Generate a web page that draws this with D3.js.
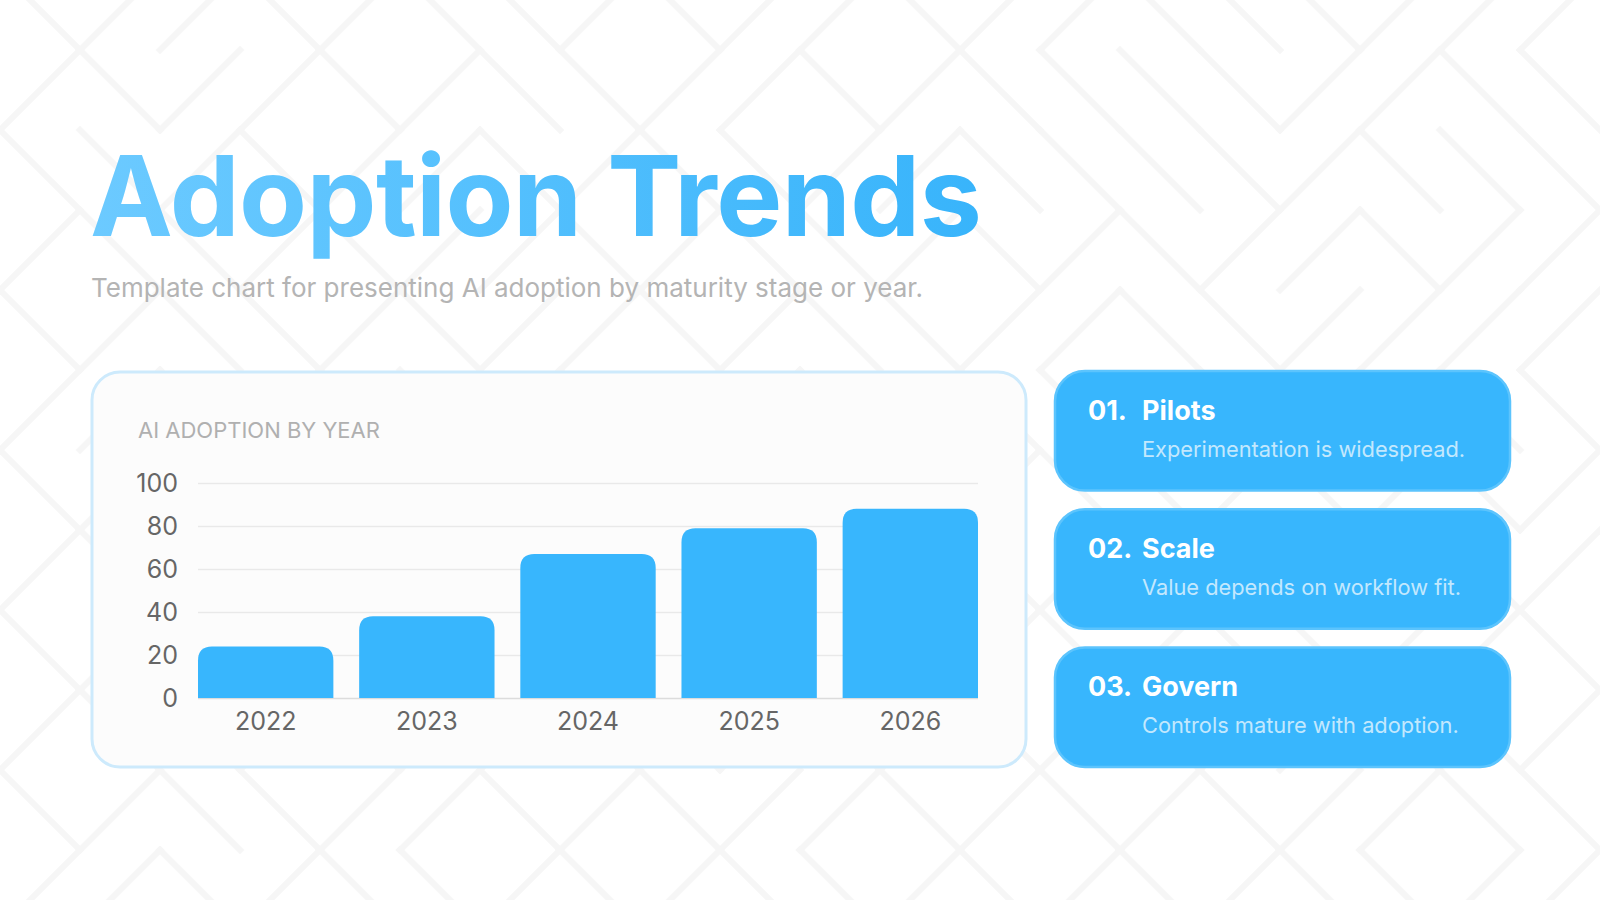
<!DOCTYPE html>
<html>
<head>
<meta charset="utf-8">
<script src="https://cdn.jsdelivr.net/npm/d3@7"></script>
<style>
  html, body { margin: 0; padding: 0; background: #ffffff; }
  svg { display: block; font-family: Inter, "Noto Sans", sans-serif; }
</style>
</head>
<body>
<div id="chart"></div>
<script>
const years = ["2022", "2023", "2024", "2025", "2026"];
const adoption = [24, 38, 67, 79, 88];
const yTicks = [0, 20, 40, 60, 80, 100];

const stageNums = ["01.", "02.", "03."];
const stageNames = ["Pilots", "Scale", "Govern"];
const stageNotes = [
    "Experimentation is widespread.",
    "Value depends on workflow fit.",
    "Controls mature with adoption."
];

// background maze: one diagonal per 80px cell, L = "\" and R = "/"
const mazeRows = [
    "LRRLRLLRLRRLRRLLLRRR",
    "RLRRLRLLRRLRLLLLRRLL",
    "LLRLRRLRLLRRLLLLRLLL",
    "RLLRLRRLRLLRLRLRRLRR",
    "LRLLRLRRLRLLRRLLRRRR",
    "RRLRLLRLRRLRLLRLRRLL",
    "LRLRRLLRLRLLRLLRLRLR",
    "RLRLLRRLRLRRLRLLRLLR",
    "LRRLRLLRRLRLRLRLLRRL",
    "RLLRLRRLLRLRLRLRRLLR",
    "LRLLRRLRLRRLRLRLRRLL",
    "RRLRLLRLRLLRLRLRLLRR"
];

const width = 1600, height = 900;

const svg = d3.select("#chart").append("svg")
    .attr("width", width)
    .attr("height", height);

const defs = svg.append("defs");

const cell = 80, mazeTop = -30;
const cells = [];
mazeRows.forEach((row, r) => {
    row.split("").forEach((k, c) => cells.push({ r: r, c: c, k: k }));
});

svg.append("g")
    .selectAll("line")
    .data(cells)
    .enter().append("line")
    .attr("x1", d => d.c * cell)
    .attr("x2", d => d.c * cell + cell)
    .attr("y1", d => mazeTop + d.r * cell + (d.k === "L" ? 0 : cell))
    .attr("y2", d => mazeTop + d.r * cell + (d.k === "L" ? cell : 0))
    .attr("stroke", "#f6f6f6")
    .attr("stroke-width", 6)
    .attr("stroke-linecap", "square");

// title gradient
const grad = defs.append("linearGradient")
    .attr("id", "titleGrad")
    .attr("x1", "0%").attr("x2", "100%");
grad.append("stop").attr("offset", "0%").attr("stop-color", "#6ccaff");
grad.append("stop").attr("offset", "100%").attr("stop-color", "#38b4fb");

svg.append("text")
    .attr("x", 90)
    .attr("y", 236)
    .attr("font-size", 111)
    .attr("font-weight", 700)
    .attr("letter-spacing", -0.6)
    .attr("fill", "url(#titleGrad)")
    .text("Adoption Trends");

svg.append("text")
    .attr("x", 91)
    .attr("y", 297)
    .attr("font-size", 26)
    .attr("fill", "#b4b4b4")
    .text("Template chart for presenting AI adoption by maturity stage or year.");

// chart panel
svg.append("rect")
    .attr("x", 92).attr("y", 372)
    .attr("width", 934).attr("height", 395)
    .attr("rx", 28)
    .attr("fill", "#fcfcfc")
    .attr("stroke", "#cdeafc")
    .attr("stroke-width", 3);

svg.append("text")
    .attr("x", 138)
    .attr("y", 438)
    .attr("font-size", 22)
    .attr("fill", "#b0b0b0")
    .text("AI ADOPTION BY YEAR");

const x = d3.scaleBand()
    .domain(years)
    .range([198, 978])
    .paddingInner(0.16)
    .paddingOuter(0);

const y = d3.scaleLinear()
    .domain([0, 100])
    .range([698, 483]);

// gridlines
svg.append("g")
    .attr("transform", "translate(198,0)")
    .call(d3.axisLeft(y).tickValues(yTicks).tickSize(-780).tickFormat(""))
    .call(g => g.select(".domain").remove())
    .call(g => g.selectAll(".tick line")
        .attr("stroke", d => d === 0 ? "#dcdcdc" : "#e9e9e9")
        .attr("stroke-width", 1.5));

// y axis labels
svg.append("g")
    .attr("transform", "translate(198,0)")
    .call(d3.axisLeft(y).tickValues(yTicks).tickSize(0).tickPadding(20))
    .call(g => g.select(".domain").remove())
    .call(g => g.selectAll("text")
        .attr("font-family", "Inter, sans-serif")
        .attr("font-size", 25)
        .attr("fill", "#666666"));

// bars with rounded tops
const r = 14;
function barPath(d, i) {
    const x0 = x(years[i]), w = x.bandwidth();
    const yt = y(d), yb = y(0);
    return `M${x0},${yb} L${x0},${yt + r} Q${x0},${yt} ${x0 + r},${yt}` +
        ` L${x0 + w - r},${yt} Q${x0 + w},${yt} ${x0 + w},${yt + r}` +
        ` L${x0 + w},${yb} Z`;
}

svg.append("g")
    .selectAll("path")
    .data(adoption)
    .enter().append("path")
    .attr("d", barPath)
    .attr("fill", "#38b6fd");

// x axis labels
svg.append("g")
    .attr("transform", `translate(0,${y(0)})`)
    .call(d3.axisBottom(x).tickSize(0).tickPadding(14))
    .call(g => g.select(".domain").remove())
    .call(g => g.selectAll("text")
        .attr("font-family", "Inter, sans-serif")
        .attr("font-size", 25)
        .attr("fill", "#666666"));

// stage cards
const cardY = d3.scaleBand()
    .domain(stageNums)
    .range([371, 767])
    .paddingInner(0.135)
    .paddingOuter(0);

const cards = svg.append("g")
    .selectAll("g")
    .data(stageNums)
    .enter().append("g")
    .attr("transform", d => `translate(1055,${cardY(d)})`);

cards.append("rect")
    .attr("width", 455)
    .attr("height", cardY.bandwidth())
    .attr("rx", 30)
    .attr("fill", "#38b6fd")
    .attr("stroke", "#5cc4fd")
    .attr("stroke-width", 2.5);

cards.append("text")
    .attr("x", 33)
    .attr("y", 48.5)
    .attr("font-size", 27)
    .attr("font-weight", 700)
    .attr("fill", "#ffffff")
    .text(d => d);

cards.append("text")
    .attr("x", 87)
    .attr("y", 48.5)
    .attr("font-size", 27)
    .attr("font-weight", 700)
    .attr("fill", "#ffffff")
    .text((d, i) => stageNames[i]);

cards.append("text")
    .attr("x", 87)
    .attr("y", 86)
    .attr("font-size", 21.8)
    .attr("fill", "#c3e8fd")
    .text((d, i) => stageNotes[i]);
</script>
</body>
</html>
